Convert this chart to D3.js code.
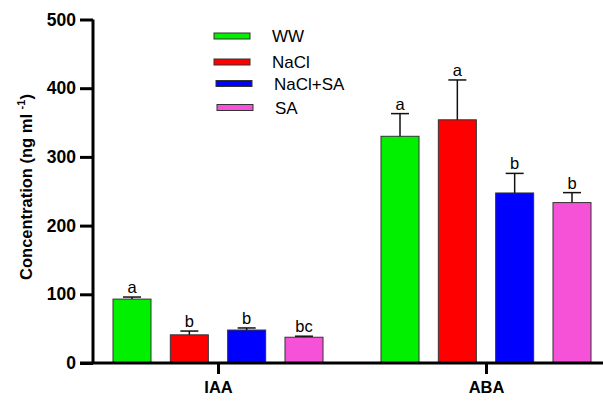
<!DOCTYPE html>
<html><head><meta charset="utf-8">
<script src="https://cdn.jsdelivr.net/npm/d3@7"></script>
<style>body{margin:0;background:#fff;} svg{display:block;}</style>
</head><body>
<svg id="c" width="603" height="401"></svg>
<script>
const groups = ["IAA", "ABA"];
const series = ["WW", "NaCl", "NaCl+SA", "SA"];
const colors = ["#00f000", "#ff0000", "#0000ff", "#f552d8"];
const means = { IAA: [93, 41, 48, 37.5], ABA: [330, 354, 247.5, 233.5] };
const errTop = { IAA: [96, 46.5, 51, 39], ABA: [363, 412, 276, 248] };
const letters = { IAA: ["a", "b", "b", "bc"], ABA: ["a", "a", "b", "b"] };
const yTicks = [0, 100, 200, 300, 400, 500];

const svg = d3.select("#c");
const font = "'Liberation Sans', Arial, Helvetica, sans-serif";
const y = d3.scaleLinear().domain([0, 500]).range([363, 19.5]);
const xg = d3.scalePoint().domain(groups).range([218, 486]);
const xs = d3.scaleBand().domain(series).range([-105, 105]).paddingInner(0.337).paddingOuter(0);

// bars
groups.forEach(g => {
  const gg = svg.append("g").attr("transform", `translate(${xg(g)},0)`);
  series.forEach((s, i) => {
    gg.append("rect").attr("x", xs(s)).attr("width", xs.bandwidth())
      .attr("y", y(means[g][i])).attr("height", y(0) - y(means[g][i]))
      .attr("fill", colors[i]).attr("stroke", "#333").attr("stroke-width", 1);
    const cx = xs(s) + xs.bandwidth() / 2;
    gg.append("line").attr("x1", cx).attr("x2", cx)
      .attr("y1", y(means[g][i])).attr("y2", y(errTop[g][i]))
      .attr("stroke", "#111").attr("stroke-width", 1.5);
    gg.append("line").attr("x1", cx - 9).attr("x2", cx + 9)
      .attr("y1", y(errTop[g][i])).attr("y2", y(errTop[g][i]))
      .attr("stroke", "#111").attr("stroke-width", 1.5);
    gg.append("text").attr("x", cx).attr("y", y(errTop[g][i]) - 4)
      .attr("text-anchor", "middle").attr("font-family", font).attr("font-size", 16.5)
      .attr("fill", "#000").text(letters[g][i]);
  });
});

// y axis
const yAxis = svg.append("g").attr("transform", "translate(93,0)")
  .call(d3.axisLeft(y).tickValues(yTicks).tickSize(13).tickPadding(4));
yAxis.select(".domain").attr("stroke", "#000").attr("stroke-width", 3).attr("d", `M0,${y(500)}V${y(0)}`);
yAxis.selectAll(".tick line").attr("stroke", "#000").attr("stroke-width", 3);
yAxis.selectAll(".tick text").attr("font-family", font).attr("font-size", 17.5).attr("font-weight", "bold").attr("fill", "#000");

// x axis
const xAxis = svg.append("g").attr("transform", `translate(0,${y(0)})`)
  .call(d3.axisBottom(xg).tickSize(11).tickPadding(7));
xAxis.select(".domain").attr("stroke", "#000").attr("stroke-width", 3).attr("d", "M80,0H603");
xAxis.selectAll(".tick line").attr("stroke", "#000").attr("stroke-width", 3);
xAxis.selectAll(".tick text").attr("font-family", font).attr("font-size", 16.5).attr("font-weight", "bold").attr("fill", "#000");

// y title
const t = svg.append("text").attr("transform", "translate(32,187) rotate(-90)")
  .attr("text-anchor", "middle").attr("font-family", font).attr("font-size", 16.5)
  .attr("font-weight", "bold").attr("fill", "#000");
t.append("tspan").text("Concentration (ng ml ");
t.append("tspan").attr("font-size", 11).attr("dy", -7).text("-1");
t.append("tspan").attr("dy", 7).text(")");

// legend
const legPos = [[214, 36, 272], [214, 62, 272], [216, 83.5, 274], [217, 107.5, 275]];
series.forEach((s, i) => {
  const [sx, cy, tx] = legPos[i];
  svg.append("rect").attr("x", sx).attr("y", cy - 3).attr("width", 36).attr("height", 6)
    .attr("fill", colors[i]).attr("stroke", "#333").attr("stroke-width", 1);
  svg.append("text").attr("x", tx).attr("y", cy).attr("dy", "0.36em")
    .attr("font-family", font).attr("font-size", 17).attr("fill", "#000").text(s);
});
</script>
</body></html>
